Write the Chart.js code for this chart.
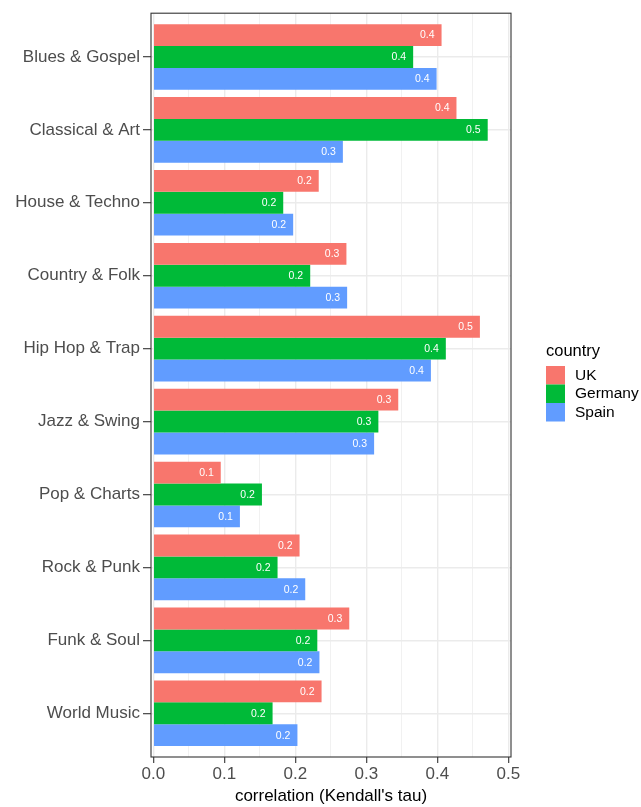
<!DOCTYPE html>
<html>
<head>
<meta charset="utf-8">
<script src="https://cdn.jsdelivr.net/npm/chart.js@4"></script>
<style>
  body { margin: 0; background: #fff; }
  canvas { display: block; }
</style>
</head>
<body>
<canvas id="chart" width="641" height="807"></canvas>
<script>
const genres = ['Blues & Gospel', 'Classical & Art', 'House & Techno', 'Country & Folk', 'Hip Hop & Trap',
	'Jazz & Swing', 'Pop & Charts', 'Rock & Punk', 'Funk & Soul', 'World Music'];
const countries = ['UK', 'Germany', 'Spain'];
const ukTau = [0.406, 0.427, 0.233, 0.272, 0.460, 0.345, 0.095, 0.206, 0.276, 0.237];
const germanyTau = [0.366, 0.471, 0.183, 0.221, 0.412, 0.317, 0.153, 0.175, 0.231, 0.168];
const spainTau = [0.399, 0.267, 0.197, 0.273, 0.391, 0.311, 0.122, 0.214, 0.234, 0.203];
const xMajorTicks = [0, 0.1, 0.2, 0.3, 0.4, 0.5];
const xMinorTicks = [0.05, 0.15, 0.25, 0.35, 0.45];

const colors = ['#F8766D', '#00BA38', '#619CFF'];
const FONT = '"Liberation Sans", Arial, sans-serif';

// bars sit on a numeric index axis so the panel can get ggplot's 0.6 padding
function toPoints(values) {
	return values.map((v, i) => ({ x: v, y: i }));
}

const seriesValues = [ukTau, germanyTau, spainTau];

const isMinor = v => xMinorTicks.some(m => Math.abs(m - v) < 1e-9);

// white value labels at the end of each bar
const barLabels = {
	id: 'barLabels',
	afterDatasetsDraw(chart) {
		const ctx = chart.ctx;
		ctx.save();
		ctx.font = '10.5px ' + FONT;
		ctx.fillStyle = '#ffffff';
		ctx.textAlign = 'right';
		ctx.textBaseline = 'middle';
		chart.data.datasets.forEach((ds, i) => {
			chart.getDatasetMeta(i).data.forEach((bar, j) => {
				ctx.fillText(seriesValues[i][j].toFixed(1), bar.x - 7, bar.y + 0.5);
			});
		});
		ctx.restore();
	}
};

// panel border + legend on the right
const panelAndLegend = {
	id: 'panelAndLegend',
	afterDraw(chart) {
		const { ctx, chartArea: a } = chart;
		ctx.save();
		ctx.strokeStyle = '#333333';
		ctx.lineWidth = 1.1;
		ctx.strokeRect(a.left, a.top, a.right - a.left, a.bottom - a.top);

		const lx = 546;
		ctx.fillStyle = '#000';
		ctx.textAlign = 'left';
		ctx.textBaseline = 'middle';
		ctx.font = '16.5px ' + FONT;
		ctx.fillText('country', lx, 351);
		ctx.font = '15.5px ' + FONT;
		chart.data.datasets.forEach((ds, i) => {
			const top = 366 + i * 18.5;
			ctx.fillStyle = ds.backgroundColor;
			ctx.fillRect(lx, top, 19, 18.5);
			ctx.fillStyle = '#000';
			ctx.fillText(ds.label, 575, top + 9.5);
		});
		ctx.restore();
	}
};

new Chart(document.getElementById('chart'), {
	type: 'bar',
	data: {
		datasets: countries.map((c, i) => ({
			label: c,
			data: toPoints(seriesValues[i]),
			backgroundColor: colors[i],
			borderWidth: 0,
			categoryPercentage: 0.9,
			barPercentage: 1.0
		}))
	},
	options: {
		indexAxis: 'y',
		responsive: false,
		animation: false,
		layout: { padding: { left: 0, top: 10, right: 130, bottom: 0 } },
		plugins: {
			legend: { display: false },
			tooltip: { enabled: false }
		},
		scales: {
			x: {
				type: 'linear',
				min: -0.00324,
				max: 0.5038,
				afterBuildTicks: scale => {
					scale.ticks = xMajorTicks.concat(xMinorTicks).map(v => ({ value: v }));
				},
				afterFit: scale => { scale.height = 50; },
				border: { display: false },
				grid: {
					color: '#EBEBEB',
					lineWidth: ctx => (ctx.tick && isMinor(ctx.tick.value) ? 0.7 : 1.4),
					tickLength: 6,
					tickWidth: 1.1,
					tickColor: ctx => (ctx.tick && isMinor(ctx.tick.value) ? 'rgba(0,0,0,0)' : '#333333')
				},
				ticks: {
					autoSkip: false,
					maxRotation: 0,
					padding: 1,
					color: '#4D4D4D',
					font: { family: FONT, size: 17 },
					callback: v => (isMinor(v) ? '' : v.toFixed(1))
				},
				title: {
					display: true,
					text: "correlation (Kendall's tau)",
					color: '#000',
					font: { family: FONT, size: 17 },
					padding: { top: 0, bottom: 0 }
				}
			},
			y: {
				type: 'linear',
				reverse: true,
				offset: false,
				min: -0.6,
				max: genres.length - 1 + 0.6,
				afterBuildTicks: scale => {
					scale.ticks = genres.map((g, i) => ({ value: i }));
				},
				afterFit: scale => { scale.width = 151; },
				border: { display: false },
				grid: {
					offset: false,
					color: '#EBEBEB',
					lineWidth: 1.4,
					tickLength: 8,
					tickWidth: 1.1,
					tickColor: '#333333'
				},
				ticks: {
					autoSkip: false,
					padding: 3,
					color: '#4D4D4D',
					font: { family: FONT, size: 17 },
					callback: v => genres[v]
				}
			}
		}
	},
	plugins: [barLabels, panelAndLegend]
});
</script>
</body>
</html>
